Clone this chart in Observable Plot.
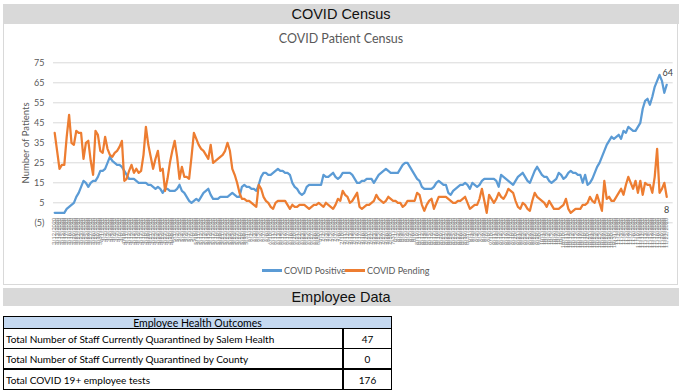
<!DOCTYPE html>
<html><head><meta charset="utf-8">
<script src="https://cdn.jsdelivr.net/npm/d3@7"></script>
<script src="https://cdn.jsdelivr.net/npm/@observablehq/plot@0.6"></script>
<style>
body{margin:0;background:#fff;}
#page{position:relative;width:682px;height:390px;overflow:hidden;font-family:"Liberation Sans",Arial,sans-serif;}
.bar{position:absolute;left:3px;width:676px;background:#d9d9d9;text-align:center;color:#111;font-size:14.5px;}
#box{position:absolute;left:3px;top:24px;width:675px;height:261px;border:1px solid #d9d9d9;border-top:none;box-sizing:border-box;}
#title{position:absolute;left:0;top:31px;width:682px;text-align:center;font-family:Lato,sans-serif;font-size:12.5px;color:#595959;}
#ylab{position:absolute;left:25px;top:143px;transform:translate(-50%,-50%) rotate(-90deg);white-space:nowrap;font-family:Lato,sans-serif;font-size:9.5px;color:#595959;}
#chart{position:absolute;left:0;top:24px;}
.leg{position:absolute;top:265px;font-family:Lato,sans-serif;font-size:9px;color:#595959;white-space:nowrap;}
.sw{display:inline-block;width:20px;height:3px;vertical-align:middle;margin-right:2px;position:relative;top:-1px;}
#tbl{position:absolute;left:3px;top:316px;border-collapse:collapse;font-family:Lato,sans-serif;font-size:10px;color:#000;}
#tbl th{background:#c5d9f1;font-weight:normal;height:11px;padding:0;border:1px solid #000;line-height:10px;font-size:10.5px;}
#tbl td{border:1px solid #000;padding:0 0 0 2px;height:19px;}
#tbl td.n{text-align:center;border-left:2px solid #000;padding:0;}
</style></head>
<body><div id="page">
<div class="bar" style="top:4px;height:20px;line-height:20px;">COVID Census</div>
<div id="box"></div>
<div id="title">COVID Patient Census</div>
<div id="ylab">Number of Patients</div>
<div id="chart"></div>
<div class="leg" style="left:262px;"><span class="sw" style="background:#5b9bd5"></span>COVID Positive</div>
<div class="leg" style="left:345px;"><span class="sw" style="background:#ed7d31"></span>COVID Pending</div>
<div class="bar" style="top:288px;height:18px;line-height:18px;">Employee Data</div>
<table id="tbl"></table>
</div>
<script>
const startDate = "2020-03-12";
const positive = [
0,0,0,0,0,2,3,4,5,8,
10,13,16,15,13,15,16,16,18,21,
21,22,25,28,26,25,24,24,23,21,
19,17,17,17,16,15,15,15,15,14,
14,13,12,13,12,10,12,12,11,11,
11,12,14,11,10,8,6,5,6,7,
6,8,10,11,12,9,7,7,7,8,
8,8,8,9,10,9,8,8,13,14,
13,13,12,12,11,14,18,20,20,19,
19,20,21,22,21,21,20,20,19,15,
13,12,10,9,10,13,14,14,14,14,
14,14,19,18,18,19,20,18,17,18,
20,20,20,20,19,17,15,15,16,16,
17,17,17,15,17,19,20,21,22,21,
20,20,20,20,22,24,25,25,23,21,
19,17,16,13,12,12,12,12,13,15,
16,15,14,14,10,9,11,12,13,14,
14,15,14,12,15,14,13,14,16,17,
17,17,17,17,16,13,19,18,17,16,
15,14,16,18,19,20,18,16,15,18,
21,23,21,19,18,18,16,15,16,17,
20,19,17,18,20,21,20,20,19,19,
15,19,14,15,17,20,23,25,28,31,
34,36,38,37,38,39,37,41,40,43,
42,41,41,43,45,52,56,57,54,58,
63,66,69,66,60,64];
const pending = [
40,31,22,24,24,38,49,35,34,41,
40,40,27,35,36,26,19,41,39,31,
30,38,32,29,28,30,31,33,36,16,
17,21,24,20,22,20,21,29,43,34,
28,22,27,31,21,22,11,17,25,31,
36,28,17,23,18,18,17,28,40,37,
34,32,31,29,27,34,25,26,27,28,
29,31,35,31,22,19,15,10,7,7,
6,6,5,4,3,14,12,8,6,5,
3,2,5,6,6,6,6,4,2,4,
3,3,4,4,4,3,2,3,4,4,
5,4,3,5,4,3,2,4,7,6,
11,9,8,5,6,8,10,3,2,3,
4,4,5,6,9,7,6,5,6,8,
7,6,6,5,5,3,4,6,6,6,
6,10,9,4,1,4,6,7,2,5,
8,8,8,8,7,6,5,5,6,6,
7,8,5,2,3,4,4,7,12,6,
0,9,7,5,7,10,8,7,9,12,
11,10,6,3,2,5,4,2,1,6,
10,8,7,6,5,3,6,4,2,2,
2,3,4,7,2,0,1,2,2,2,
4,4,5,8,6,5,9,5,1,16,
7,8,6,6,8,10,12,9,14,18,
15,12,16,10,16,9,15,14,14,10,
18,32,10,12,15,8];
const yTicks = [-5,5,15,25,35,45,55,65,75];
const tableTitle = "Employee Health Outcomes";
const tableLabels = ["Total Number of Staff Currently Quarantined by Salem Health","Total Number of Staff Currently Quarantined by County","Total COVID 19+ employee tests"];
const tableValues = [47,0,176];

// category labels (one per day)
const fmt = d3.utcFormat("%-m/%-d/%Y");
const start = new Date(startDate + "T00:00:00Z");
const dates = positive.map((_, i) => fmt(d3.utcDay.offset(start, i)));

const rowsP = positive.map((v, i) => ({i, v}));
const rowsQ = pending.map((v, i) => ({i, v}));
const lastP = rowsP[rowsP.length - 1], lastQ = rowsQ[rowsQ.length - 1];

const chart = Plot.plot({
  width: 682, height: 240,
  marginLeft: 53, marginRight: 9.3, marginTop: 38.3, marginBottom: 41.7,
  style: {fontFamily: "Lato, sans-serif", color: "#595959", background: "transparent", overflow: "visible"},
  x: {type: "linear", domain: [-0.5, 257.7], axis: null},
  y: {domain: [-5, 75]},
  marks: [
    Plot.ruleY(yTicks, {stroke: "#d9d9d9", strokeWidth: 1}),
    Plot.axisY({ticks: yTicks, tickFormat: d => d < 0 ? `(${-d})` : `${d}`, tickSize: 0, tickPadding: 9, fontSize: 9, label: null}),
    Plot.text(dates, {x: (d, i) => i, y: 0, text: d => d, rotate: -90, textAnchor: "end", lineAnchor: "middle", dy: 5, fontSize: 5.5, fill: "#7f7f7f"}),
    Plot.line(rowsP, {x: "i", y: "v", stroke: "#5b9bd5", strokeWidth: 2.25, strokeLinejoin: "round"}),
    Plot.line(rowsQ, {x: "i", y: "v", stroke: "#ed7d31", strokeWidth: 2.25, strokeLinejoin: "round"}),
    Plot.text([lastP], {x: "i", y: "v", text: d => String(d.v), dx: 1, dy: -12, fontSize: 9, fill: "#404040"}),
    Plot.text([lastQ], {x: "i", y: "v", text: d => String(d.v), dx: 0, dy: 13, fontSize: 9, fill: "#404040"})
  ]
});
document.getElementById("chart").appendChild(chart);

const tbl = document.getElementById("tbl");
const colW = [336, 47];
let html = `<tr><th colspan="2" style="width:${colW[0]+colW[1]}px">${tableTitle}</th></tr>`;
tableLabels.forEach((lab, k) => {
  const thick = k === 1 ? "border-bottom:2px solid #000;" : "";
  html += `<tr><td style="width:${colW[0]}px;${thick}">${lab}</td><td class="n" style="width:${colW[1]}px;${thick}">${tableValues[k]}</td></tr>`;
});
tbl.innerHTML = html;
</script>
</body></html>
